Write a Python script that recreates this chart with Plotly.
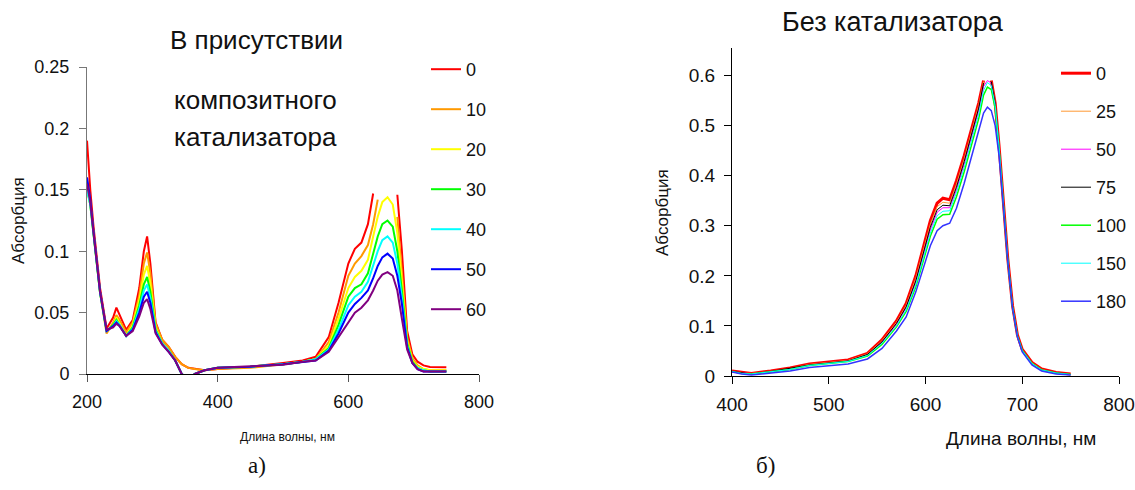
import plotly.graph_objects as go

# ---------------- data: left panel (with composite catalyst) ----------------
wl_a = [200, 205, 210, 220, 230, 240, 245, 250, 260, 270, 280, 287, 292, 297, 305, 315, 325,
        335, 345, 355, 365, 380, 400, 450, 500, 530, 550, 570, 585, 600, 610, 620, 630, 638,
        645, 652, 660, 668, 675, 682, 690, 698, 706, 715, 725, 740, 750]
names_a = ["0", "10", "20", "30", "40", "50", "60"]
a_0 = [0.190, 0.150, 0.120, 0.070, 0.037, 0.046, 0.054, 0.048, 0.036, 0.044, 0.070, 0.100, 0.112, 0.090, 0.042, 0.028, 0.022,
       0.014, 0.008, 0.005, 0.004, 0.003, 0.004, 0.006, 0.009, 0.011, 0.014, 0.030, 0.058, 0.090, 0.102, 0.107, 0.122, 0.147,
       None, None, None, None, 0.146, 0.100, 0.035, 0.016, 0.010, 0.007, 0.0058, 0.0055, 0.0055]
a_10 = [0.160, 0.140, 0.115, 0.066, 0.033, 0.042, 0.048, 0.044, 0.034, 0.042, 0.064, 0.090, 0.099, 0.082, 0.041, 0.028, 0.022,
        0.014, 0.008, 0.005, 0.004, 0.003, 0.004, 0.005, 0.008, 0.010, 0.012, 0.026, 0.050, 0.080, 0.090, 0.096, 0.105, 0.122,
        0.142, None, None, None, 0.128, 0.085, 0.030, 0.013, 0.007, 0.004, 0.003, 0.003, 0.003]
a_20 = [0.150, 0.138, 0.114, 0.066, 0.035, 0.040, 0.046, 0.041, 0.031, 0.040, 0.060, 0.081, 0.088, 0.074, 0.038, 0.025, 0.019,
        0.011, 0.000, -0.004, 0.000, 0.003, 0.005, 0.006, 0.008, 0.010, 0.012, 0.023, 0.045, 0.070, 0.079, 0.084, 0.093, 0.112,
        0.128, 0.140, 0.144, 0.138, 0.115, 0.075, 0.027, 0.011, 0.006, 0.004, 0.003, 0.003, 0.003]
a_30 = [0.152, 0.138, 0.114, 0.066, 0.035, 0.040, 0.044, 0.040, 0.031, 0.038, 0.056, 0.073, 0.079, 0.067, 0.036, 0.025, 0.019,
        0.011, 0.000, -0.004, 0.000, 0.003, 0.005, 0.006, 0.008, 0.010, 0.012, 0.021, 0.040, 0.063, 0.070, 0.073, 0.082, 0.098,
        0.112, 0.122, 0.125, 0.120, 0.100, 0.068, 0.025, 0.010, 0.005, 0.003, 0.002, 0.002, 0.002]
a_40 = [0.150, 0.138, 0.114, 0.066, 0.035, 0.039, 0.043, 0.040, 0.031, 0.037, 0.053, 0.068, 0.073, 0.062, 0.035, 0.025, 0.019,
        0.011, 0.000, -0.004, 0.000, 0.003, 0.005, 0.006, 0.008, 0.010, 0.012, 0.020, 0.036, 0.056, 0.063, 0.067, 0.075, 0.088,
        0.100, 0.109, 0.112, 0.107, 0.090, 0.062, 0.023, 0.009, 0.005, 0.003, 0.002, 0.002, 0.002]
a_50 = [0.160, 0.142, 0.116, 0.067, 0.035, 0.039, 0.042, 0.039, 0.031, 0.036, 0.050, 0.063, 0.067, 0.058, 0.034, 0.024, 0.018,
        0.011, 0.000, -0.004, 0.000, 0.003, 0.005, 0.006, 0.008, 0.010, 0.011, 0.019, 0.033, 0.050, 0.057, 0.062, 0.068, 0.078,
        0.088, 0.095, 0.098, 0.094, 0.080, 0.057, 0.022, 0.009, 0.004, 0.002, 0.002, 0.002, 0.002]
a_60 = [0.155, 0.140, 0.115, 0.067, 0.036, 0.038, 0.041, 0.039, 0.031, 0.035, 0.047, 0.058, 0.061, 0.053, 0.033, 0.024, 0.018,
        0.011, 0.000, -0.004, 0.000, 0.003, 0.005, 0.006, 0.0075, 0.010, 0.011, 0.018, 0.030, 0.043, 0.050, 0.054, 0.060, 0.068,
        0.076, 0.081, 0.083, 0.080, 0.068, 0.045, 0.020, 0.009, 0.004, 0.002, 0.002, 0.002, 0.002]
series_a = [a_0, a_10, a_20, a_30, a_40, a_50, a_60]
colors_a = ["#FF0000", "#FF9900", "#FFFF00", "#00FF00", "#00FFFF", "#0000FF", "#800080"]

# ---------------- data: right panel (without catalyst) ----------------
wl_b = [400, 410, 420, 440, 460, 480, 500, 520, 540, 555, 570, 580, 590, 598, 605, 612, 618, 625, 632, 640,
        648, 655, 660, 664, 668, 672, 676, 680, 685, 690, 695, 700, 710, 720, 735, 750]
names_b = ["0", "25", "50", "75", "100", "150", "180"]
b_0 = [0.010, 0.007, 0.005, 0.010, 0.016, 0.024, 0.028, 0.032, 0.045, 0.072, 0.110, 0.145, 0.200, 0.260, 0.310, 0.345, 0.355, 0.352, 0.390, 0.440,
       0.495, 0.545, 0.590, None, 0.590, 0.545, 0.460, 0.360, 0.235, 0.140, 0.082, 0.053, 0.027, 0.014, 0.007, 0.004]
b_25 = [0.009, 0.006, 0.005, 0.009, 0.015, 0.023, 0.027, 0.031, 0.044, 0.070, 0.107, 0.141, 0.195, 0.254, 0.303, 0.338, 0.347, 0.345, 0.383, 0.433,
        0.488, 0.540, 0.588, None, 0.588, 0.545, 0.460, 0.358, 0.233, 0.138, 0.080, 0.052, 0.026, 0.013, 0.006, 0.003]
b_50 = [0.009, 0.006, 0.004, 0.009, 0.014, 0.022, 0.026, 0.030, 0.042, 0.067, 0.103, 0.136, 0.187, 0.244, 0.292, 0.327, 0.336, 0.336, 0.372, 0.423,
        0.478, 0.530, 0.578, 0.590, 0.585, 0.543, 0.458, 0.357, 0.232, 0.137, 0.080, 0.051, 0.025, 0.012, 0.006, 0.003]
b_75 = [0.009, 0.006, 0.004, 0.009, 0.015, 0.022, 0.026, 0.030, 0.043, 0.068, 0.105, 0.138, 0.190, 0.248, 0.297, 0.332, 0.341, 0.340, 0.377, 0.428,
        0.483, 0.535, 0.585, None, 0.588, 0.545, 0.458, 0.357, 0.232, 0.137, 0.080, 0.051, 0.025, 0.012, 0.006, 0.003]
b_100 = [0.009, 0.005, 0.004, 0.008, 0.013, 0.021, 0.025, 0.029, 0.040, 0.063, 0.098, 0.129, 0.178, 0.233, 0.279, 0.313, 0.322, 0.323, 0.358, 0.408,
         0.462, 0.514, 0.561, 0.577, 0.572, 0.535, 0.454, 0.356, 0.232, 0.137, 0.080, 0.051, 0.025, 0.012, 0.006, 0.003]
b_150 = [0.009, 0.005, 0.004, 0.008, 0.013, 0.021, 0.025, 0.029, 0.041, 0.065, 0.100, 0.132, 0.182, 0.238, 0.285, 0.320, 0.329, 0.330, 0.366, 0.416,
         0.471, 0.523, 0.570, 0.586, 0.580, 0.540, 0.457, 0.357, 0.232, 0.137, 0.080, 0.051, 0.025, 0.012, 0.006, 0.003]
b_180 = [0.008, 0.004, 0.002, 0.006, 0.010, 0.017, 0.021, 0.024, 0.034, 0.055, 0.090, 0.118, 0.168, 0.215, 0.260, 0.290, 0.300, 0.305, 0.335, 0.385,
         0.440, 0.490, 0.525, 0.537, 0.530, 0.500, 0.440, 0.350, 0.230, 0.135, 0.078, 0.048, 0.022, 0.010, 0.004, 0.002]
series_b = [b_0, b_25, b_50, b_75, b_100, b_150, b_180]
colors_b = ["#FF0000", "#FF9933", "#FF00FF", "#000000", "#00FF00", "#00FFFF", "#3333FF"]
widths_b = [3, 1, 1, 1, 1.5, 1, 1.5]

# body margin is removed by the post-script, so the figure fills the window
W, H = 1135, 490
def px(x): return x / W
def py(y): return 1 - y / H

FONT = "Liberation Sans, Arial, sans-serif"

fig = go.Figure()
for i, (nm, ys) in enumerate(zip(names_a, series_a)):
    fig.add_trace(go.Scatter(x=wl_a, y=ys, name=nm, mode="lines",
                             line=dict(color=colors_a[i], width=2),
                             xaxis="x", yaxis="y", legend="legend",
                             legendgroup="a" + nm, connectgaps=False))
for i, (nm, ys) in enumerate(zip(names_b, series_b)):
    fig.add_trace(go.Scatter(x=wl_b, y=ys, name=nm, mode="lines",
                             line=dict(color=colors_b[i], width=widths_b[i]),
                             xaxis="x2", yaxis="y2", legend="legend2",
                             legendgroup="b" + nm, connectgaps=False))

axis_common = dict(showgrid=False, zeroline=False, showline=True, ticks="outside",
                   ticklen=7, tickwidth=1, linewidth=1)

fig.update_layout(
    width=W, height=H,
    margin=dict(l=0, r=0, t=0, b=0, autoexpand=False),
    paper_bgcolor="white", plot_bgcolor="white",
    font=dict(family=FONT, color="#111111"),
    xaxis=dict(domain=[px(87), px(479)], range=[200, 800], tickvals=[200, 400, 600, 800],
               anchor="y", linecolor="#000000", tickcolor="#555555", ticklabelstandoff=4,
               tickfont=dict(size=18, family=FONT, color="#111"), **axis_common),
    yaxis=dict(domain=[py(374), py(67)], range=[0, 0.25], tickvals=[0, 0.05, 0.1, 0.15, 0.2, 0.25],
               ticktext=["0", "0.05", "0.1", "0.15", "0.2", "0.25"], ticklabelstandoff=6,
               anchor="x", linecolor="#777777", tickcolor="#777777",
               tickfont=dict(size=18, family=FONT, color="#111"), **axis_common),
    xaxis2=dict(domain=[px(732), px(1119)], range=[400, 800], tickvals=[400, 500, 600, 700, 800],
                anchor="y2", linecolor="#000000", tickcolor="#000000", ticklabelstandoff=4,
                tickfont=dict(size=19, family=FONT, color="#111"), **axis_common),
    yaxis2=dict(domain=[py(376), py(48)], range=[0, 0.655], tickvals=[0, 0.1, 0.2, 0.3, 0.4, 0.5, 0.6],
                ticktext=["0", "0.1", "0.2", "0.3", "0.4", "0.5", "0.6"], ticklabelstandoff=5,
                anchor="x2", linecolor="#000000", tickcolor="#000000",
                tickfont=dict(size=19, family=FONT, color="#111"), **axis_common),
    legend=dict(x=px(426), y=py(51), xanchor="left", yanchor="top",
                font=dict(size=18, family=FONT, color="#111"),
                bgcolor="rgba(0,0,0,0)", traceorder="grouped", tracegroupgap=13.6),
    legend2=dict(x=px(1056), y=py(55), xanchor="left", yanchor="top",
                 font=dict(size=18, family=FONT, color="#111"),
                 bgcolor="rgba(0,0,0,0)", traceorder="grouped", tracegroupgap=11.6),
    showlegend=True,
)

ann = [
    dict(text="В присутствии", x=px(256), y=py(40), size=26, family=FONT),
    dict(text="композитного", x=px(255), y=py(100), size=26, family=FONT),
    dict(text="катализатора", x=px(255), y=py(137), size=26, family=FONT),
    dict(text="Без катализатора", x=px(893), y=py(22), size=27, family=FONT),
    dict(text="Длина волны, нм", x=px(287), y=py(437), size=12,
         family="Liberation Sans Narrow, Arial Narrow, Liberation Sans, sans-serif"),
    dict(text="Длина волны, нм", x=px(1021), y=py(438), size=19, family=FONT),
    dict(text="а)", x=px(257), y=py(465), size=23, family="Liberation Serif, Times New Roman, serif"),
    dict(text="б)", x=px(765), y=py(465), size=23, family="Liberation Serif, Times New Roman, serif"),
]
for a in ann:
    fig.add_annotation(text=a["text"], x=a["x"], y=a["y"], xref="paper", yref="paper",
                       xanchor="center", yanchor="middle", showarrow=False,
                       font=dict(size=a["size"], family=a["family"], color="#111"))
for xx, yy in [(18, 221), (662, 213)]:
    fig.add_annotation(text="Абсорбция", x=px(xx), y=py(yy), xref="paper", yref="paper",
                       xanchor="center", yanchor="middle", showarrow=False, textangle=-90,
                       font=dict(size=17, family=FONT, color="#111"))

fig.write_html("out.html", config={"displayModeBar": False},
               post_script="document.body.style.margin='0';document.body.style.overflow='hidden';")
